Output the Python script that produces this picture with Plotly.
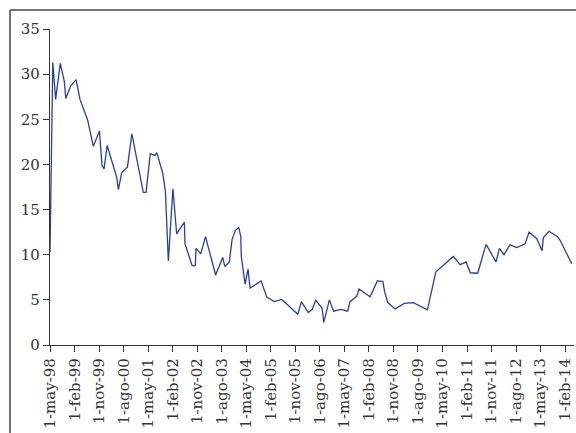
import plotly.graph_objects as go

dates = [
    "1998-05-01", "1998-06-01", "1998-07-03", "1998-08-24", "1998-10-08", "1998-10-24",
    "1998-12-19", "1999-02-17", "1999-04-01", "1999-06-26", "1999-08-28", "1999-11-04",
    "1999-12-03", "1999-12-26", "2000-01-29", "2000-05-15", "2000-06-03", "2000-07-10",
    "2000-09-12", "2000-10-31", "2001-03-08", "2001-04-08", "2001-05-25", "2001-07-17",
    "2001-08-06", "2001-10-12", "2001-11-10", "2001-12-13", "2002-02-02", "2002-03-16",
    "2002-06-10", "2002-06-17", "2002-09-04", "2002-10-10", "2002-10-18", "2002-12-10",
    "2003-02-01", "2003-05-25", "2003-08-12", "2003-09-04", "2003-10-25", "2003-11-25",
    "2004-01-01", "2004-02-08", "2004-03-01", "2004-03-07", "2004-04-18", "2004-05-21",
    "2004-06-13", "2004-10-14", "2004-12-17", "2005-03-10", "2005-06-02", "2005-11-28",
    "2006-01-07", "2006-03-25", "2006-05-09", "2006-06-16", "2006-08-26", "2006-09-14",
    "2006-11-16", "2007-01-01", "2007-03-25", "2007-06-08", "2007-07-04", "2007-09-17",
    "2007-10-13", "2008-02-14", "2008-05-04", "2008-07-04", "2008-07-26", "2008-08-29",
    "2008-11-19", "2009-03-01", "2009-06-11", "2009-11-15", "2010-02-17", "2010-09-01",
    "2010-11-15", "2011-01-21", "2011-03-08", "2011-05-30", "2011-09-01", "2011-12-21",
    "2012-01-28", "2012-03-19", "2012-05-25", "2012-08-09", "2012-11-10", "2012-12-24",
    "2013-03-19", "2013-05-18", "2013-06-02", "2013-08-05", "2013-11-06", "2013-12-06",
    "2014-04-15",
]

values = [
    10.3, 31.3, 27.2, 31.2, 29.2, 27.3,
    28.7, 29.4, 27.2, 24.9, 22.0, 23.7,
    19.9, 19.5, 22.1, 18.6, 17.2, 19.1,
    19.7, 23.4, 16.9, 16.9, 21.2, 21.0,
    21.3, 19.0, 17.0, 9.3, 17.3, 12.3,
    13.6, 11.2, 8.8, 8.8, 10.7, 10.1,
    12.0, 7.75, 9.7, 8.7, 9.2, 11.7,
    12.7, 13.0, 12.0, 9.8, 6.75, 8.4,
    6.3, 7.1, 5.3, 4.8, 5.05, 3.4,
    4.8, 3.6, 3.95, 4.95, 4.1, 2.5,
    5.0, 3.75, 3.95, 3.75, 4.8, 5.4,
    6.2, 5.35, 7.1, 7.05, 5.85, 4.7,
    4.0, 4.6, 4.7, 3.9, 8.1, 9.8,
    8.9, 9.2, 8.0, 7.95, 11.15, 9.2,
    10.7, 10.0, 11.1, 10.8, 11.2, 12.5,
    11.8, 10.45, 11.9, 12.6, 12.0, 11.6,
    9.0,
]

tick_dates = [
    "1998-05-01", "1999-02-01", "1999-11-01", "2000-08-01", "2001-05-01", "2002-02-01",
    "2002-11-01", "2003-08-01", "2004-05-01", "2005-02-01", "2005-11-01", "2006-08-01",
    "2007-05-01", "2008-02-01", "2008-11-01", "2009-08-01", "2010-05-01", "2011-02-01",
    "2011-11-01", "2012-08-01", "2013-05-01", "2014-02-01",
]
tick_labels = [
    "1-may-98", "1-feb-99", "1-nov-99", "1-ago-00", "1-may-01", "1-feb-02",
    "1-nov-02", "1-ago-03", "1-may-04", "1-feb-05", "1-nov-05", "1-ago-06",
    "1-may-07", "1-feb-08", "1-nov-08", "1-ago-09", "1-may-10", "1-feb-11",
    "1-nov-11", "1-ago-12", "1-may-13", "1-feb-14",
]
y_ticks = [0, 5, 10, 15, 20, 25, 30, 35]

fig = go.Figure()
fig.add_trace(go.Scatter(
    x=dates, y=values, mode="lines",
    line=dict(color="#2a3f9c", width=1.3),
    showlegend=False, hoverinfo="skip",
))

axis_color = "#333333"
text_color = "#333333"
fig.update_layout(
    width=576, height=433,
    margin=dict(l=50, r=2, t=29, b=88),
    paper_bgcolor="white", plot_bgcolor="white",
    font=dict(family="DejaVu Serif", size=15, color=text_color),
    xaxis=dict(
        type="date",
        range=["1998-05-01", "2014-05-10"],
        tickmode="array", tickvals=tick_dates, ticktext=tick_labels,
        tickangle=-90, automargin=False,
        showline=True, linecolor=axis_color, linewidth=1.3,
        ticks="outside", ticklen=6, tickcolor=axis_color, tickwidth=1.3,
        showgrid=False, zeroline=False,
        tickfont=dict(family="DejaVu Serif", size=15, color=text_color),
    ),
    yaxis=dict(
        range=[0, 35], automargin=False,
        tickmode="array", tickvals=y_ticks,
        showline=True, linecolor=axis_color, linewidth=1.3,
        ticks="outside", ticklen=6, tickcolor=axis_color, tickwidth=1.3,
        showgrid=False, zeroline=False,
        tickfont=dict(family="DejaVu Serif", size=15, color=text_color),
    ),
)

# outer frame around the figure (cropped at right/bottom in reference)
frame = dict(color="#444444", width=1.5)
fig.add_shape(type="line", xref="paper", yref="paper",
              x0=-0.0763, x1=1.2, y0=1.060, y1=1.060, line=frame)
fig.add_shape(type="line", xref="paper", yref="paper",
              x0=-0.0763, x1=-0.0763, y0=-0.6, y1=1.060, line=frame)

fig.write_html(
    "out.html",
    config={"displayModeBar": False},
    post_script="document.body.style.margin='0';document.body.style.overflow='hidden';",
)
